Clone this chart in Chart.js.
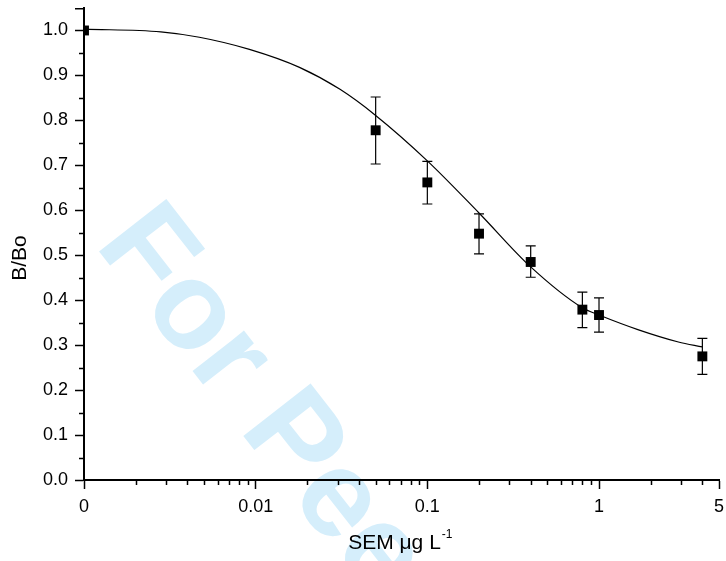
<!DOCTYPE html>
<html><head><meta charset="utf-8">
<script src="https://cdn.jsdelivr.net/npm/chart.js@4/dist/chart.umd.min.js"></script>
<style>html,body{margin:0;padding:0;background:#fff}#wrap{width:726px;height:561px}</style>
</head><body><div id="wrap"><canvas id="c" width="726" height="561"></canvas></div>
<script>
// ---- data ----
const concentrations = [0.001, 0.05, 0.1, 0.2, 0.4, 0.8, 1, 4];
const bBo = [1.0, 0.778, 0.662, 0.548, 0.485, 0.379, 0.367, 0.275];
const errLow = [1.0, 0.703, 0.614, 0.503, 0.451, 0.339, 0.329, 0.235];
const errHigh = [1.0, 0.852, 0.709, 0.592, 0.521, 0.418, 0.405, 0.315];
const fitX = [0.001, 0.0028, 0.0047, 0.0092, 0.018, 0.031, 0.05, 0.1, 0.2, 0.4, 0.8, 1, 1.7, 2.9, 4];
const fitY = [1.003, 0.997, 0.985, 0.958, 0.918, 0.869, 0.811, 0.71, 0.594, 0.474, 0.383, 0.367, 0.334, 0.307, 0.296];
const xTickValues = [0.001, 0.01, 0.1, 1, 5];
const xTickLabels = ['0', '0.01', '0.1', '1', '5'];
const xMinorTicks = [0.002,0.003,0.004,0.005,0.006,0.007,0.008,0.009,0.02,0.03,0.04,0.05,0.06,0.07,0.08,0.09,0.2,0.3,0.4,0.5,0.6,0.7,0.8,0.9,2,3,4];
const yTickValues = [0, 0.1, 0.2, 0.3, 0.4, 0.5, 0.6, 0.7, 0.8, 0.9, 1.0];
const yMinorTicks = [0.05, 0.15, 0.25, 0.35, 0.45, 0.55, 0.65, 0.75, 0.85, 0.95];
const yAxisMax = 1.05;
const xTitle = 'SEM \u03BCg L';
const xTitleSup = '-1';
const yTitle = 'B/Bo';
const watermark = 'For Peer Review';

const FONT = '"Liberation Sans", Arial, Helvetica, sans-serif';

const watermarkPlugin = {
  id: 'watermark',
  beforeDraw(chart) {
    const ctx = chart.ctx;
    ctx.save();
    ctx.fillStyle = 'rgb(213,238,251)';
    ctx.font = 'bold 124px ' + FONT;
    ctx.textAlign = 'left';
    ctx.textBaseline = 'alphabetic';
    ctx.translate(94, 245);
    ctx.rotate(52 * Math.PI / 180);
    ctx.fillText(watermark, 0, 0);
    ctx.restore();
  }
};

const extrasPlugin = {
  id: 'extras',
  afterDatasetsDraw(chart) {
    const ctx = chart.ctx, xs = chart.scales.x, ys = chart.scales.y;
    ctx.save();
    ctx.strokeStyle = '#000';
    ctx.lineWidth = 1.2;
    for (let i = 0; i < concentrations.length; i++) {
      if (errHigh[i] === errLow[i]) continue;
      const px = xs.getPixelForValue(concentrations[i]);
      const y1 = ys.getPixelForValue(errLow[i]);
      const y2 = ys.getPixelForValue(errHigh[i]);
      ctx.beginPath();
      ctx.moveTo(px, y1); ctx.lineTo(px, y2);
      ctx.moveTo(px - 5, y1); ctx.lineTo(px + 5, y1);
      ctx.moveTo(px - 5, y2); ctx.lineTo(px + 5, y2);
      ctx.stroke();
    }
    ctx.restore();
  },
  afterDraw(chart) {
    const ctx = chart.ctx, a = chart.chartArea, xs = chart.scales.x, ys = chart.scales.y;
    ctx.save();
    ctx.strokeStyle = '#000';
    ctx.lineWidth = 1.5;
    ctx.beginPath();
    xMinorTicks.forEach(v => {
      const px = Math.round(xs.getPixelForValue(v)) + 0.5;
      ctx.moveTo(px, a.bottom); ctx.lineTo(px, a.bottom + 5);
    });
    yMinorTicks.forEach(v => {
      const py = Math.round(ys.getPixelForValue(v)) + 0.5;
      ctx.moveTo(a.left, py); ctx.lineTo(a.left - 5, py);
    });
    const pe = ys.getPixelForValue(yAxisMax) + 0.75;
    ctx.moveTo(a.left, pe); ctx.lineTo(a.left - 9, pe);
    ctx.stroke();

    ctx.fillStyle = '#000';
    // y title
    ctx.save();
    ctx.font = '21px ' + FONT;
    ctx.textAlign = 'center';
    ctx.textBaseline = 'alphabetic';
    ctx.translate(26, (a.top + a.bottom) / 2 + 14);
    ctx.rotate(-Math.PI / 2);
    ctx.fillText(yTitle, 0, 0);
    ctx.restore();
    // x title
    ctx.font = '21px ' + FONT;
    const w = ctx.measureText(xTitle).width;
    const cx = (a.left + a.right) / 2 - 7;
    ctx.textAlign = 'left';
    ctx.textBaseline = 'alphabetic';
    ctx.fillText(xTitle, cx - w / 2, a.bottom + 69);
    ctx.font = '12px ' + FONT;
    ctx.fillText(xTitleSup, cx + w / 2 + 1, a.bottom + 58);
    ctx.restore();
  }
};

new Chart(document.getElementById('c'), {
  type: 'line',
  data: {
    datasets: [
      {
        data: concentrations.map((x, i) => ({ x: x, y: bBo[i] })),
        showLine: false,
        pointStyle: 'rect',
        pointRadius: 7,
        pointBackgroundColor: '#000',
        pointBorderWidth: 0,
        order: 0
      },
      {
        data: fitX.map((x, i) => ({ x: x, y: fitY[i] })),
        borderColor: '#000',
        borderWidth: 1.2,
        pointRadius: 0,
        fill: false,
        cubicInterpolationMode: 'monotone',
        order: 1
      }
    ]
  },
  options: {
    responsive: false,
    animation: false,
    devicePixelRatio: 1,
    layout: { padding: { top: 8, right: 6, left: 0, bottom: 0 } },
    plugins: { legend: { display: false }, tooltip: { enabled: false } },
    scales: {
      x: {
        type: 'logarithmic',
        min: 0.001, max: 5,
        afterBuildTicks: s => { s.ticks = xTickValues.map(v => ({ value: v })); },
        afterFit: s => { s.height = 81; s.paddingLeft = 0; s.paddingRight = 0; },
        ticks: {
          callback: (v, i) => xTickLabels[i],
          autoSkip: false, maxRotation: 0,
          color: '#000', font: { family: FONT, size: 18 }, padding: 7
        },
        grid: { display: true, drawOnChartArea: false, drawTicks: true, tickLength: 9, tickWidth: 1.5, tickColor: '#000' },
        border: { display: true, color: '#000', width: 2 }
      },
      y: {
        type: 'linear',
        min: 0, max: yAxisMax,
        afterBuildTicks: s => { s.ticks = yTickValues.map(v => ({ value: v })); },
        afterFit: s => { s.width = 84; s.paddingTop = 0; s.paddingBottom = 0; },
        ticks: {
          callback: (v) => Number(v).toFixed(1),
          autoSkip: false,
          color: '#000', font: { family: FONT, size: 18 }, padding: 7
        },
        grid: { display: true, drawOnChartArea: false, drawTicks: true, tickLength: 9, tickWidth: 1.5, tickColor: '#000' },
        border: { display: true, color: '#000', width: 2 }
      }
    }
  },
  plugins: [watermarkPlugin, extrasPlugin]
});
</script>
</body></html>
